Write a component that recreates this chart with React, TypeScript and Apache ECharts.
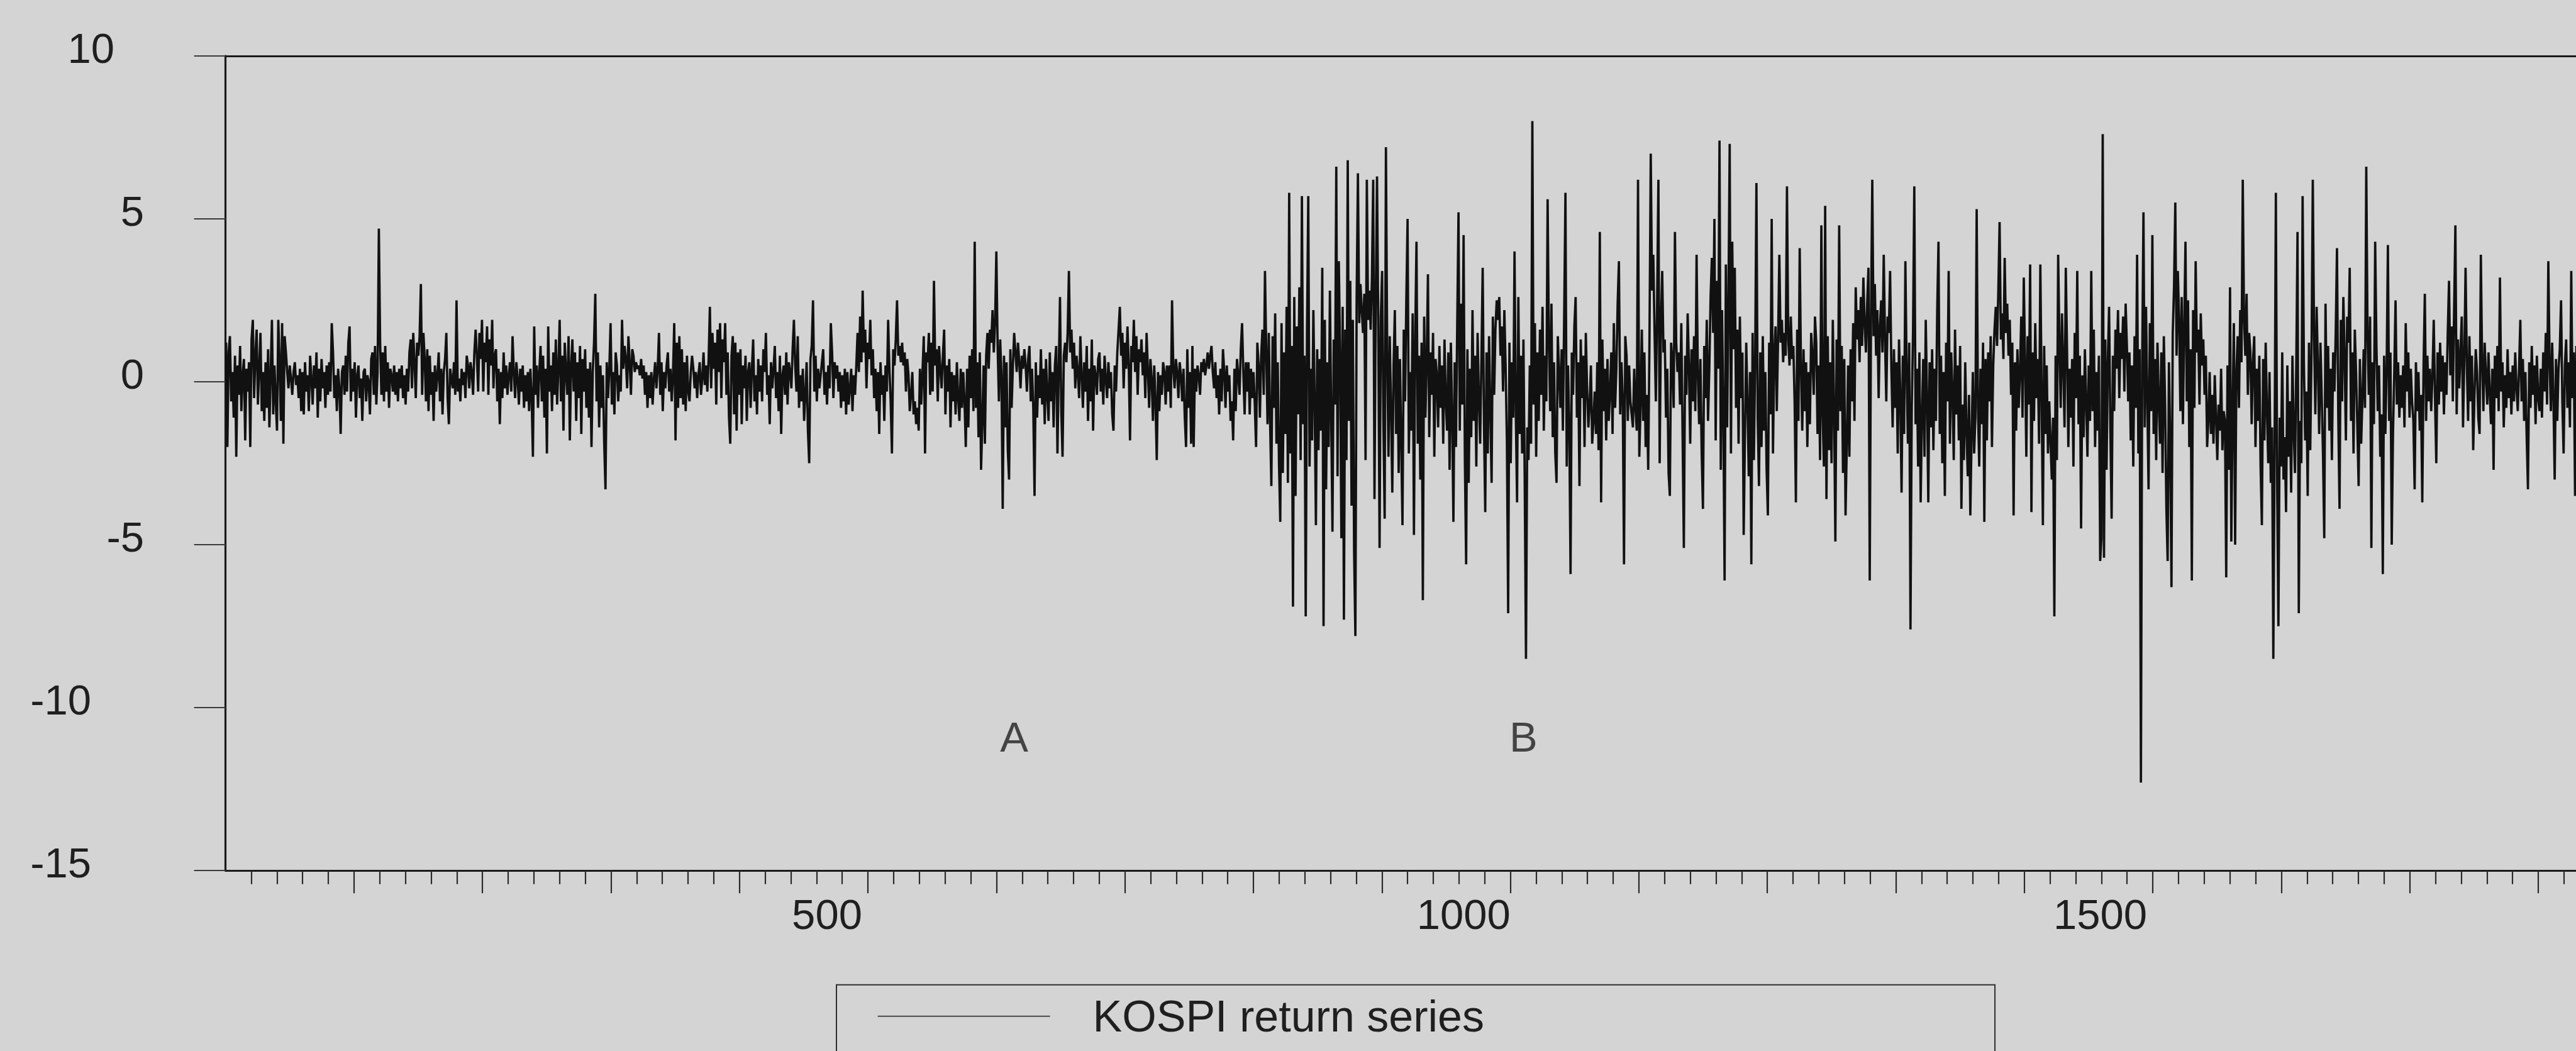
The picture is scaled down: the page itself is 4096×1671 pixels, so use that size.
import React, { useEffect, useRef } from "react";
import * as echarts from "echarts";

// ---------------- data ----------------
const seriesName = "KOSPI return series";
const startObs = 28; // observation number of the first plotted value
// daily returns (%) read off the picture, one row ≈ 20 observations
const returns: number[] = [
  1.2,-2.0,0.9,1.4,-0.6,0.3,-1.1,0.8,-2.3,0.5,-0.4,1.1,-0.9,0.2,0.7,-1.8,0.4,-0.3,0.6,-2.0,
  1.3,1.9,-0.5,0.8,1.6,-0.7,0.4,1.5,-0.9,0.3,-1.2,0.6,-0.8,1.0,-1.4,0.2,1.9,-1.0,0.5,-0.6,
  -1.5,1.9,0.6,-1.2,1.8,-1.9,1.4,0.9,0.3,-0.2,0.5,0.1,-0.4,0.3,0.6,-0.1,0.2,-0.5,0.4,-0.9,
  0.3,-1.0,0.6,-0.3,0.2,-0.9,0.8,0.1,-0.7,0.5,-0.2,0.9,-1.1,0.4,-0.6,0.7,-0.2,0.3,-0.8,0.5,
  -0.4,0.6,-0.3,1.8,0.9,-0.5,0.2,-0.9,0.4,-0.2,-1.6,0.3,0.5,-0.4,0.8,-0.3,1.2,1.7,-0.6,0.4,
  -0.3,0.6,-1.1,0.2,0.5,-0.5,0.1,-1.2,0.3,0.4,-0.6,0.2,0.0,-1.0,0.7,0.9,-0.4,1.1,-0.7,0.3,
  4.7,1.2,-0.4,0.9,-0.6,1.1,-0.3,0.6,-0.8,0.4,0.2,-0.3,0.5,-0.4,0.3,-0.6,0.4,-0.2,0.5,-0.5,
  0.2,-0.7,0.4,-0.3,0.9,1.3,-0.2,1.5,0.6,-0.5,1.2,0.8,1.4,3.0,-0.4,1.5,0.7,-0.6,1.0,-0.9,
  0.8,-0.4,0.3,-1.2,0.5,-0.3,0.2,0.9,-0.6,0.4,-1.0,0.3,0.7,1.5,-0.5,-1.3,0.4,0.1,-0.2,0.6,
  -0.4,2.5,-0.3,0.1,-0.6,0.4,-0.1,0.3,-0.5,0.8,0.5,-0.2,0.6,0.3,-0.4,0.9,1.6,0.8,-0.3,1.5,
  0.7,1.9,-0.3,1.2,0.6,1.7,-0.4,1.3,0.5,1.9,-0.2,0.8,1.0,-0.6,0.4,-1.3,0.3,-0.5,0.9,-0.2,
  0.5,-0.4,0.2,0.6,-0.3,1.4,0.3,-0.5,0.6,0.1,-0.7,0.4,-0.3,0.5,-0.8,0.2,-0.6,0.3,-0.9,0.4,
  -0.5,-2.3,1.7,-0.4,0.5,-0.8,0.3,1.1,-0.6,0.8,-1.1,0.4,-2.2,1.7,-0.3,0.5,-0.9,0.9,-0.4,1.3,
  -0.7,0.4,1.9,-0.6,0.8,-1.5,1.2,0.3,-0.4,1.4,-1.8,0.5,1.3,-0.3,0.9,-1.2,0.6,-0.5,1.1,-1.6,
  0.7,-0.3,1.0,-0.8,0.4,-1.1,0.6,-2.0,0.3,1.2,2.7,-0.6,0.9,-1.4,0.5,-0.8,0.2,-1.9,-3.3,0.6,
  -0.5,0.4,1.8,-0.7,0.3,-1.0,0.9,0.5,-0.6,0.2,-0.3,1.9,0.4,1.1,0.7,-0.2,1.4,0.6,-0.4,1.0,
  0.8,0.3,0.6,0.4,0.5,0.2,0.7,0.1,0.5,-0.4,0.3,-0.8,0.2,-0.5,0.3,-0.7,0.1,0.6,-0.2,0.4,
  1.5,-0.4,0.6,-0.9,0.3,-0.2,0.5,0.9,-0.3,0.4,-0.6,0.2,1.8,-1.8,1.2,-0.8,1.4,-0.5,1.0,-0.7,
  0.6,-0.9,0.8,-0.3,-0.6,0.3,0.8,0.4,-0.2,0.3,-0.5,0.2,0.6,-0.4,0.1,0.9,-0.1,0.5,-0.3,0.7,
  2.3,-0.2,1.5,0.4,1.2,-0.7,1.6,0.3,1.8,-0.5,1.3,0.6,1.8,-0.4,0.9,-1.1,-1.9,0.8,1.4,-1.0,
  1.2,-1.5,0.9,-0.4,1.0,-1.3,0.5,-0.2,0.8,-1.2,0.3,0.6,-0.8,0.4,1.3,-0.6,0.2,-1.0,0.7,-0.3,
  0.5,-0.6,1.0,0.3,1.5,-0.4,0.2,-1.3,0.6,-0.2,0.4,1.1,-0.5,0.3,-0.9,0.8,-1.6,0.2,0.5,-0.4,
  0.9,-0.7,0.6,0.3,-0.2,1.0,1.9,0.5,-0.3,1.4,-0.8,0.2,-0.6,0.4,-1.2,-0.4,0.6,-1.5,-2.5,0.7,
  1.1,2.5,-0.3,0.8,-0.6,0.4,-0.2,0.2,0.6,1.0,-0.4,0.3,-0.7,0.5,-0.2,1.8,0.9,-0.5,0.6,0.1,
  0.5,-0.3,0.3,-0.8,0.2,-0.6,0.4,-1.0,0.3,-0.7,-0.2,0.4,-0.9,0.2,-0.4,0.5,1.5,0.3,2.0,0.6,
  2.8,0.9,1.6,-0.2,1.2,0.7,1.9,0.2,1.0,-0.5,0.4,-0.9,0.3,-1.6,0.6,-0.4,0.2,-1.2,0.5,-0.3,
  1.9,0.4,-0.6,-2.2,1.0,0.5,1.3,2.5,0.8,1.1,0.6,1.2,0.5,0.9,-0.3,0.7,0.2,-0.9,-0.4,0.3,
  -1.0,-0.6,-1.3,-0.8,-1.5,0.4,-0.7,0.3,1.4,-2.2,0.9,0.6,1.5,-0.4,1.2,-0.3,3.1,0.5,1.0,-0.6,
  1.1,0.4,-0.2,0.8,1.6,-1.0,0.5,-0.3,0.7,-1.4,0.3,-0.6,0.2,-1.0,0.6,-0.5,-1.2,0.4,-0.8,0.3,
  -0.6,-2.0,0.4,-1.4,0.8,-0.5,1.0,-0.9,4.3,-0.8,0.6,-1.7,0.9,-2.7,-1.2,0.5,-1.9,0.8,1.5,0.4,
  1.6,1.2,2.2,0.9,1.8,4.0,1.1,-0.6,1.3,0.2,-3.9,0.8,-1.4,0.6,-2.1,-3.0,1.0,-0.8,0.5,1.5,
  0.9,0.3,1.2,0.6,-0.2,0.8,0.4,1.0,0.5,-0.3,0.7,1.1,-0.6,0.4,-0.8,-3.5,0.6,-1.1,0.2,-0.5,
  1.0,-0.7,0.4,-1.3,0.7,-0.4,-1.2,0.9,-0.6,0.3,-1.4,0.5,1.1,-2.2,0.4,2.6,-0.9,-2.3,0.8,1.2,
  0.6,1.5,3.4,0.9,1.6,0.4,1.2,-0.2,0.8,0.3,-0.5,1.4,0.2,-0.8,0.6,-0.3,1.1,-1.2,0.4,-0.6,
  1.3,-1.5,0.5,0.2,-0.4,0.7,0.9,-0.3,0.4,-0.7,0.8,0.1,-0.5,0.6,-0.2,0.3,-1.0,-1.5,0.5,-0.3,
  0.9,1.6,2.3,0.8,1.5,-0.2,1.2,0.4,1.7,0.5,-1.8,1.1,0.6,1.9,0.3,1.4,-0.4,1.0,0.6,1.3,
  0.2,0.9,-0.5,1.5,0.4,-0.8,0.7,0.1,-1.2,0.5,-0.6,-2.4,0.3,-0.9,0.2,-0.4,0.6,0.3,-0.7,0.5,
  -0.3,0.5,-0.8,2.5,0.4,-0.2,0.7,0.3,-0.5,0.6,0.2,-0.6,0.4,-1.1,-2.0,1.0,-0.8,0.3,-1.9,1.1,
  -2.0,0.4,-0.3,0.5,0.2,-0.4,0.6,0.3,0.7,0.2,0.5,0.9,0.4,0.8,1.1,0.3,-0.2,0.6,-0.5,0.2,
  -1.0,0.4,-0.6,1.0,0.3,-0.8,0.5,-0.3,0.2,-1.2,-0.6,-1.8,0.4,-0.9,0.7,0.2,-0.4,1.0,1.8,0.3,
  -1.0,0.6,-0.3,0.6,-1.0,0.4,-0.5,0.3,-0.7,-2.0,1.2,0.5,-1.1,0.8,1.6,-0.4,3.4,0.9,-1.3,1.5,
  -1.2,-3.2,1.4,-0.8,2.1,-1.9,0.6,-2.5,-4.3,1.8,-2.8,0.9,-1.6,2.3,-3.1,5.8,-2.2,1.1,-6.9,2.6,
  -3.5,1.7,-1.0,2.9,-2.4,5.7,-1.3,0.8,-7.2,1.5,5.7,-2.6,0.4,-1.8,2.2,-0.6,-4.4,1.0,-2.1,0.7,
  -1.5,3.5,-7.5,1.9,-3.3,0.6,-2.0,2.8,-1.1,-4.6,1.3,-0.7,6.6,-2.9,3.7,0.8,-4.8,2.3,-7.3,1.6,
  -2.4,6.8,-1.2,3.1,-3.8,1.9,-5.2,-7.8,2.6,6.4,1.8,3.0,2.2,1.5,2.7,-2.4,6.2,1.9,2.8,1.6,
  3.2,6.2,-3.6,2.4,6.3,1.7,-5.1,2.0,3.4,-1.2,-4.2,7.2,0.9,-2.3,1.4,-0.8,-3.4,0.5,2.2,-1.6,
  1.1,-2.8,0.7,-1.9,-4.4,1.6,-0.6,2.5,5.0,-2.2,0.3,-1.5,2.1,-4.7,1.4,4.3,-1.9,0.8,-3.0,1.2,
  -6.7,2.0,-1.1,0.6,3.3,-1.7,0.9,-0.4,1.5,-2.3,0.7,0.2,-1.4,1.1,-0.8,0.5,-1.9,1.3,-0.6,-1.5,
  0.9,-2.7,1.2,-1.0,-4.3,0.6,-2.0,1.8,5.2,-1.5,2.4,-0.7,4.5,-2.4,-5.6,1.0,-3.1,0.4,-1.7,2.2,
  -1.2,0.8,-2.6,1.5,-0.5,-1.9,0.7,3.5,-1.3,-4.0,0.9,-2.2,1.4,-0.9,-3.1,2.0,-0.4,1.6,2.5,1.9,
  2.6,0.8,1.7,-0.3,2.2,0.5,-1.8,-7.1,1.2,-2.5,0.6,-1.1,4.0,-0.9,-3.7,2.6,-1.6,0.8,-2.2,1.3,
  -3.0,-8.5,-1.4,-2.4,0.5,-1.9,8.0,-0.7,1.8,-2.3,0.9,-1.2,1.6,-0.4,2.3,-1.5,0.8,-0.6,5.6,1.2,
  -0.9,2.4,-1.7,0.6,-2.2,-3.1,1.4,0.3,-0.8,1.0,-1.5,2.0,5.8,-2.6,0.5,-1.3,-5.9,0.9,-0.4,1.7,
  2.6,-1.1,0.6,-3.2,1.3,-0.5,0.8,-2.0,1.5,-0.2,-1.4,-0.7,0.5,-1.9,-1.2,-0.3,-1.6,0.6,-2.1,4.6,
  -3.7,1.3,-0.9,0.4,-1.8,0.7,-1.2,-0.3,0.9,-1.6,1.8,-0.8,0.4,2.4,3.7,-1.0,0.6,-0.5,-5.6,1.4,
  0.8,-1.2,0.5,-0.6,-1.0,-1.4,0.4,-0.8,-1.5,6.2,-2.3,-0.7,1.6,-1.2,0.9,-2.0,-0.4,-2.7,1.3,7.0,
  2.8,3.9,1.5,-0.6,2.4,6.2,-2.5,1.8,3.4,0.9,1.3,-1.1,0.4,-2.8,-3.5,1.2,0.6,-0.8,4.6,1.2,
  0.3,0.9,-0.7,1.8,-1.6,-5.1,0.8,-0.4,2.1,0.5,-1.9,1.0,-0.6,1.4,-0.9,3.9,0.2,-1.3,0.7,-2.2,
  -3.9,1.1,-0.5,1.9,-1.2,0.4,2.6,3.8,1.5,5.0,-1.8,3.1,0.4,7.4,-2.7,2.2,-0.9,-6.1,3.6,-1.4,
  2.4,7.3,-2.2,4.3,1.0,3.5,-0.8,1.6,-1.9,2.0,-0.5,0.9,-4.7,-1.6,1.2,-0.7,-2.9,0.3,-5.6,1.5,
  -2.4,0.6,6.1,-1.1,-3.2,0.9,-2.0,1.4,-1.5,0.3,-2.7,-4.1,1.2,-1.0,5.0,-2.2,0.8,1.7,-0.9,1.3,
  3.9,1.2,1.9,0.6,1.5,0.8,6.0,1.3,0.5,2.0,0.7,1.1,-0.6,-3.7,1.6,-1.2,4.1,0.4,-1.5,1.0,
  -0.9,0.6,-2.0,0.3,-1.3,1.5,0.8,-0.4,2.0,1.2,-1.6,0.5,-2.4,4.8,-1.0,-2.6,5.4,-3.6,1.4,-2.1,
  0.6,-2.5,1.9,-0.8,-4.9,1.3,-1.5,4.8,-0.9,1.1,-2.8,0.7,-4.1,-1.9,0.5,-2.3,1.0,-0.6,1.8,-1.2,
  2.9,1.3,2.2,0.6,2.6,1.1,3.2,1.8,0.9,2.4,3.5,-6.1,2.0,6.2,1.4,3.0,0.8,2.2,-0.5,1.7,
  2.5,0.9,3.9,1.3,-0.6,2.0,1.5,3.4,0.4,-1.4,1.0,-0.8,0.6,-2.2,1.3,-0.4,-3.4,0.8,-1.6,3.7,
  0.3,-1.9,1.2,-7.6,-0.8,1.5,6.0,-1.3,0.4,-2.6,0.9,-3.7,-1.1,0.7,-2.3,1.9,-0.5,-3.7,0.6,-1.4,
  1.0,-2.1,0.4,-1.2,2.2,4.3,-1.6,0.8,-2.5,0.3,-3.5,1.2,-0.6,3.4,-1.9,0.9,-0.3,-2.4,1.6,-1.0,
  0.5,-1.8,1.1,-3.9,-0.7,-2.4,0.6,-1.5,-2.9,-0.4,-4.1,-1.7,0.3,-2.2,-1.1,5.3,-0.8,-2.6,0.4,-1.3,
  1.2,-4.3,0.7,-1.8,0.9,-0.6,1.4,-2.0,0.5,1.6,2.3,1.1,2.8,4.9,1.3,2.1,0.7,3.8,1.5,2.4,
  0.8,1.9,-0.4,1.2,-4.1,0.6,-1.5,1.0,-0.8,0.3,2.0,-1.1,3.2,0.6,-2.3,1.4,-0.7,3.6,-4.0,0.9,
  -1.2,1.8,-0.5,0.7,-1.9,3.6,-0.3,-4.4,1.1,-1.6,0.5,-2.2,-0.6,-1.8,-3.0,-1.1,-7.2,0.8,-2.4,3.9,
  1.2,-0.8,2.1,0.5,-1.4,3.5,0.9,-2.0,0.4,-1.1,0.7,-2.6,1.5,-0.5,3.4,-1.3,0.8,-4.5,0.2,-1.7,
  1.0,-0.6,-2.3,0.5,-1.2,3.4,-0.9,1.6,-2.0,0.3,-1.5,0.8,-5.5,-4.8,7.6,-5.4,1.3,-2.7,0.6,2.3,
  -1.5,-4.2,0.8,-0.9,1.6,0.4,2.2,-0.5,1.5,0.7,2.0,-0.3,2.4,1.1,-0.6,0.9,-1.8,0.5,-2.6,1.4,
  -0.8,3.9,-2.2,1.0,-12.3,0.6,5.2,-1.4,2.3,-0.5,-3.3,1.8,-0.9,4.5,-1.6,0.7,-2.4,1.2,-0.6,-1.9,
  0.9,-2.8,1.4,-0.7,-3.9,-5.5,0.6,-1.8,-6.3,1.5,2.9,5.5,0.8,3.4,1.9,-0.9,2.6,-1.3,1.7,4.3,
  -0.6,2.5,-2.0,1.0,-6.1,2.2,-0.8,3.7,0.9,1.6,-0.7,2.1,0.5,1.3,-0.4,0.8,-2.0,-1.2,0.3,-1.6,
  -0.4,-1.9,0.2,-1.1,-2.4,-0.7,-1.5,0.4,-2.1,-0.9,-1.2,-6.0,0.5,-2.7,2.9,-4.9,-1.0,1.8,-5.0,0.3,
  1.4,-0.8,2.2,0.6,6.2,1.9,0.8,2.7,-0.4,1.5,0.9,-1.3,0.6,1.4,-2.0,0.4,-1.2,0.8,-2.6,-4.4,
  0.7,-1.8,1.2,-0.9,-2.5,0.3,-3.1,-1.4,-8.5,-2.0,5.8,-3.2,-7.5,-1.1,-2.6,0.9,-3.0,-1.7,-4.0,0.5,
  -2.3,-0.6,-3.4,0.8,-1.5,-2.8,0.4,4.6,-7.1,-1.2,-2.5,5.7,0.6,-1.8,-0.3,-3.5,1.2,-2.1,0.9,6.2,
  1.4,-1.0,2.3,0.5,-1.6,1.2,-0.4,-2.2,-4.8,2.4,-0.8,1.1,-1.5,0.4,-2.4,0.9,-0.3,1.5,4.1,-1.0,
  -3.9,1.9,-0.6,2.6,0.8,-1.8,2.0,1.2,3.5,-1.2,0.9,-2.2,1.6,0.3,-1.4,-3.2,0.7,-1.9,-0.5,1.0,
  -0.8,6.6,1.5,-0.4,2.0,-5.1,0.6,-1.3,4.3,1.1,-0.9,0.5,-2.3,-1.0,-5.9,0.8,-1.6,0.4,4.2,-1.2,
  0.9,-5.0,-1.6,0.3,2.5,-0.7,0.6,-1.1,0.2,-0.8,0.5,-1.4,1.8,-0.3,0.9,-1.1,0.4,-0.6,-1.2,-3.3,
  0.6,-0.9,0.3,-1.5,-0.4,-3.7,0.5,2.7,-1.2,0.8,-0.6,0.4,-0.9,0.2,1.9,-0.5,-2.5,0.9,-0.7,1.2,
  -0.3,0.8,-1.0,0.6,-0.4,1.5,3.1,0.2,1.7,-0.6,2.2,4.8,-1.0,1.3,-0.2,0.9,2.0,-1.4,0.7,3.5,
  0.5,-1.2,1.4,-0.6,0.8,-2.1,-0.4,1.0,0.3,-1.1,-1.6,3.9,0.6,-0.9,1.2,0.2,-0.7,0.9,-0.4,-1.3,
  0.4,-2.7,0.8,-0.5,1.1,-0.9,3.2,-0.3,0.6,-1.4,0.2,-0.8,1.0,-0.5,0.3,-1.0,0.5,-0.6,0.9,-0.2,
  -0.9,0.4,1.9,-0.6,0.7,-1.2,0.3,-1.7,-3.3,0.6,-0.8,1.1,-0.4,0.5,-1.3,0.8,-0.5,-0.9,0.4,-1.1,
  0.9,-0.3,1.5,-0.7,3.7,0.6,-0.9,1.2,-0.5,-3.0,0.7,-1.2,0.4,1.0,2.5,-0.6,-2.2,0.5,1.3,-0.8,
  0.6,-1.4,3.4,-0.5,0.9,-3.5,1.1,-0.6,0.8,-1.0,0.5,-0.7,1.2,-0.4,0.6,-0.9,
];

const xLabelValues = [500, 1000, 1500];
const yMin = -15;
const yMax = 10;
const yStep = 5;

const annotationLabels = ["A", "B"];
const annotationObs = [647, 1047];
const annotationY = [-10.9, -10.9];

// ---------------- layout (px in the 4096x1671 window) ----------------
const W = 4096;
const H = 1671;
const gridLeft = 358.6;
const gridTop = 88.9;
const gridBottom = 286.8;
const pxPerObs = 2.0244;
const obsAtAxis = 27.56;
const minorTickPx = 40.86; // the ruler: one minor tick every 40.86 px, a major one every 5
const FONT = "'Liberation Sans', Arial, Helvetica, sans-serif";
const TEXT = "#1f1f1f";
const LINE = "#1a1a1a";
const BG = "#d4d4d4";

export default function App() {
  const ref = useRef<HTMLDivElement>(null);

  useEffect(() => {
    if (!ref.current) return;
    const chart = echarts.init(ref.current, null, { renderer: "svg" });
    const gridW = W - gridLeft;
    const obsMax = obsAtAxis + gridW / pxPerObs;
    const tickMax = gridW / minorTickPx;

    const majorTicks: number[] = [];
    const minorTicks: number[] = [];
    for (let k = 1; k <= Math.floor(tickMax); k++) {
      if (k % 5 === 0) majorTicks.push(k);
      else minorTicks.push(k);
    }

    const lineData = returns.map((v, i) => [startObs + i, v]);
    const annData = annotationLabels.map((name, i) => ({
      name,
      value: [annotationObs[i], annotationY[i]],
    }));

    const option: any = {
      animation: false,
      backgroundColor: BG,
      textStyle: { fontFamily: FONT },
      grid: {
        left: gridLeft,
        top: gridTop,
        right: 0,
        bottom: gridBottom,
        containLabel: false,
      },
      legend: {
        data: [seriesName],
        selectedMode: false,
        left: 1330,
        top: 1565.7,
        orient: "horizontal",
        padding: [15, 812, 160, 64.6],
        itemWidth: 274,
        itemHeight: 4,
        borderColor: "#2e2e2e",
        borderWidth: 2,
        backgroundColor: "transparent",
        lineStyle: { width: 2, color: "#4a4a4a" },
        itemStyle: { color: "rgba(0,0,0,0)", borderWidth: 0, opacity: 0 },
        formatter: "{t|{name}}",
        textStyle: {
          fontFamily: FONT,
          fontSize: 70,
          color: TEXT,
          rich: {
            t: { fontFamily: FONT, fontSize: 70, color: TEXT, padding: [0, 0, 0, 63] },
          },
        },
      },
      xAxis: [
        {
          // observation axis carrying the data and the 500/1000/1500 labels
          type: "value",
          position: "bottom",
          min: obsAtAxis,
          max: obsMax,
          axisLine: { show: false, onZero: false },
          axisTick: { show: false },
          splitLine: { show: false },
          axisLabel: {
            show: true,
            customValues: xLabelValues,
            margin: 36,
            fontFamily: FONT,
            fontSize: 67,
            color: TEXT,
            formatter: (v: number) => String(v),
          },
        },
        {
          // ruler: axis line and major ticks
          type: "value",
          position: "bottom",
          min: 0,
          max: tickMax,
          axisLine: { show: true, onZero: false, lineStyle: { color: LINE, width: 3.2 } },
          axisTick: {
            show: true,
            inside: false,
            length: 36,
            customValues: majorTicks,
            lineStyle: { color: "#2a2a2a", width: 2.2 },
          },
          axisLabel: { show: false },
          splitLine: { show: false },
        },
        {
          // ruler: minor ticks
          type: "value",
          position: "bottom",
          min: 0,
          max: tickMax,
          axisLine: { show: false, onZero: false },
          axisTick: {
            show: true,
            inside: false,
            length: 21.5,
            customValues: minorTicks,
            lineStyle: { color: "#2a2a2a", width: 2.2 },
          },
          axisLabel: { show: false },
          splitLine: { show: false },
        },
        {
          // top frame line
          type: "value",
          position: "top",
          min: 0,
          max: 1,
          axisLine: { show: true, onZero: false, lineStyle: { color: LINE, width: 3.2 } },
          axisTick: { show: false },
          axisLabel: { show: false },
          splitLine: { show: false },
        },
      ],
      yAxis: {
        type: "value",
        min: yMin,
        max: yMax,
        interval: yStep,
        axisLine: { show: true, onZero: false, lineStyle: { color: LINE, width: 3.2 } },
        axisTick: { show: true, inside: false, length: 50, lineStyle: { color: "#3a3a3a", width: 2.2 } },
        splitLine: { show: false },
        axisLabel: {
          show: true,
          showMinLabel: true,
          showMaxLabel: true,
          margin: 129.6,
          align: "right",
          verticalAlign: "middle",
          fontFamily: FONT,
          fontSize: 67,
          color: TEXT,
          formatter: (v: number) => {
            if (v === 10) return `{a|${v}}`;
            if (v === -10 || v === -15) return `{c|${v}}`;
            return `{b|${v}}`;
          },
          rich: {
            a: { fontFamily: FONT, fontSize: 67, color: TEXT, padding: [0, 47, 25, 0] },
            b: { fontFamily: FONT, fontSize: 67, color: TEXT, padding: [0, 0, 25, 0] },
            c: { fontFamily: FONT, fontSize: 67, color: TEXT, padding: [0, 84, 25, 0] },
          },
        },
      },
      series: [
        {
          name: seriesName,
          type: "line",
          xAxisIndex: 0,
          yAxisIndex: 0,
          data: lineData,
          symbol: "none",
          showSymbol: false,
          clip: true,
          lineStyle: { color: "#111111", width: 3.7 },
          itemStyle: { color: "#111111" },
          emphasis: { disabled: true },
        },
        {
          name: "annotations",
          type: "scatter",
          xAxisIndex: 0,
          yAxisIndex: 0,
          data: annData,
          symbolSize: 1,
          silent: true,
          itemStyle: { color: "rgba(0,0,0,0)" },
          label: {
            show: true,
            position: "inside",
            formatter: "{b}",
            fontFamily: FONT,
            fontSize: 67,
            color: TEXT,
          },
        },
      ],
    };

    chart.setOption(option);
    return () => chart.dispose();
  }, []);

  return (
    <div
      ref={ref}
      style={{
        position: "fixed",
        left: 0,
        top: 0,
        width: W + "px",
        height: H + "px",
        background: BG,
      }}
    />
  );
}
